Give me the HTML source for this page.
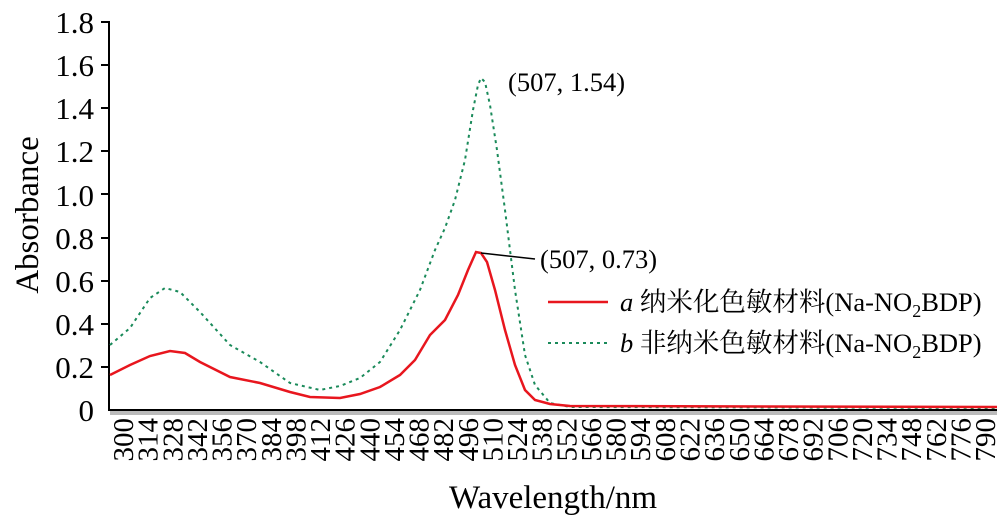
<!DOCTYPE html>
<html><head><meta charset="utf-8"><style>body{margin:0;background:#fff}svg{display:block}text{font-family:"Liberation Serif","Noto Serif CJK SC",serif}</style></head><body>
<svg width="1000" height="522" viewBox="0 0 1000 522">
<g font-size="31" text-anchor="end" fill="#000">
<text x="94" y="421">0</text><text x="94" y="378">0.2</text><text x="94" y="335">0.4</text><text x="94" y="292">0.6</text><text x="94" y="249">0.8</text><text x="94" y="206">1.0</text><text x="94" y="162">1.2</text><text x="94" y="119">1.4</text><text x="94" y="76">1.6</text><text x="94" y="33">1.8</text>
</g>
<g stroke="#000" stroke-width="2">
<line x1="101" y1="22" x2="109" y2="22"/><line x1="101" y1="65" x2="109" y2="65"/><line x1="101" y1="108" x2="109" y2="108"/><line x1="101" y1="151" x2="109" y2="151"/><line x1="101" y1="194" x2="109" y2="194"/><line x1="101" y1="238" x2="109" y2="238"/><line x1="101" y1="281" x2="109" y2="281"/><line x1="101" y1="324" x2="109" y2="324"/><line x1="101" y1="367" x2="109" y2="367"/>
</g>
<line x1="109" y1="21" x2="109" y2="411" stroke="#000" stroke-width="2"/>
<line x1="109" y1="410" x2="997" y2="410" stroke="#000" stroke-width="2"/>
<rect x="110" y="411" width="887" height="4" fill="#bbb"/>
<g id="lbl" font-size="29" fill="#000"></g>
<polyline fill="none" stroke="#1a8a5a" stroke-width="2" stroke-dasharray="3,4" points="110,345 130,328 150,298 165,288 180,292 200,312 230,345 260,362 290,383 320,390 340,386 360,378 380,362 400,330 420,290 435,250 445,228 455,200 465,160 473,110 478,85 481,78 485,82 490,105 497,150 505,210 515,290 525,355 535,385 550,403 570,407 997,408"/>
<polyline fill="none" stroke="#e8161e" stroke-width="2.5" points="110,375 130,365 150,356 170,351 185,353 200,362 230,377 260,383 290,392 310,397 340,398 360,394 380,387 400,375 415,360 430,335 445,320 458,295 468,270 476,252 481,253 487,262 495,290 505,330 515,365 525,390 535,400 550,404 570,406 997,407"/>
<line x1="481" y1="253" x2="535" y2="259" stroke="#000" stroke-width="1.5"/>
<text x="540" y="268" font-size="26.5">(507, 0.73)</text>
<text x="508" y="91" font-size="26.5">(507, 1.54)</text>
<line x1="548" y1="302" x2="608" y2="302" stroke="#e8161e" stroke-width="2.5"/>
<text x="620" y="311" font-size="26.5"><tspan font-style="italic">a</tspan> 纳米化色敏材料(Na-NO<tspan font-size="18" dy="6">2</tspan><tspan dy="-6">BDP)</tspan></text>
<line x1="548" y1="343" x2="608" y2="343" stroke="#1a8a5a" stroke-width="2" stroke-dasharray="3,4"/>
<text x="620" y="352" font-size="26.5"><tspan font-style="italic">b</tspan> 非纳米色敏材料(Na-NO<tspan font-size="18" dy="6">2</tspan><tspan dy="-6">BDP)</tspan></text>
<text transform="translate(38,215) rotate(-90)" font-size="33" text-anchor="middle">Absorbance</text>
<text x="553" y="508" font-size="33" text-anchor="middle">Wavelength/nm</text>
</svg>
<script>
var g=document.getElementById('lbl'),s='';
for(var i=0;i<36;i++){var v=300+14*i,x=123+i*24.63;
s+='<text transform="translate('+(x+10)+',418) rotate(-90)" text-anchor="end">'+v+'</text>';}
g.innerHTML=s;
</script>
</body></html>
